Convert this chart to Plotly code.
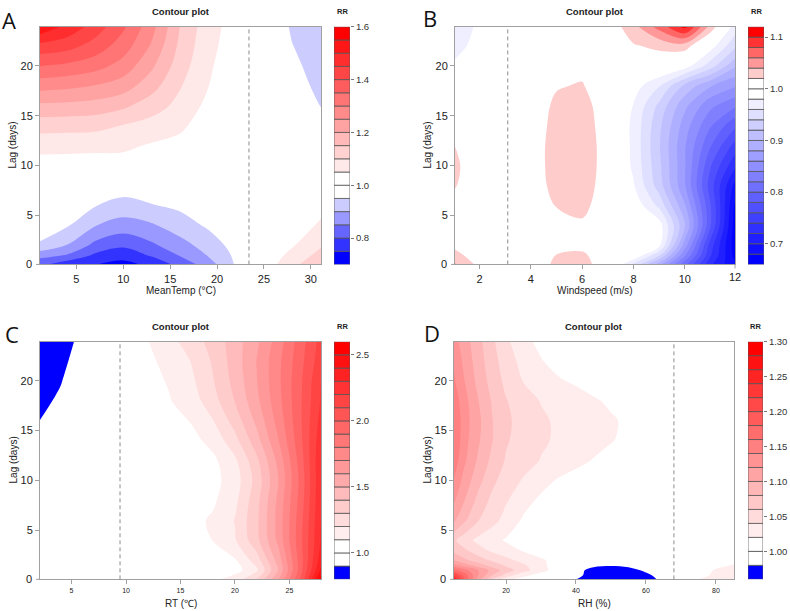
import numpy as np
import plotly.graph_objects as go

# ---------------- data (RR) ----------------
# Panel A : MeanTemp
meantemp_x = [1.0, 4, 7, 10, 13, 16, 19, 22, 25, 28, 31.2]
lag_A = [0, 1, 2, 4, 6, 8, 10, 12, 14, 16, 18, 20, 22, 24]
rr_A = [
    [0.805, 0.76, 0.748, 0.73, 0.76, 0.81, 0.87, 0.955, 1.02, 1.09, 1.14],
    [0.87, 0.845, 0.79, 0.77, 0.805, 0.852, 0.902, 0.96, 1.015, 1.065, 1.12],
    [0.94, 0.898, 0.835, 0.808, 0.84, 0.88, 0.92, 0.97, 1.01, 1.045, 1.097],
    [0.995, 0.955, 0.902, 0.878, 0.893, 0.925, 0.957, 0.98, 1.0, 1.02, 1.06],
    [1.0, 0.99, 0.952, 0.932, 0.947, 0.96, 0.975, 0.99, 0.995, 1.005, 1.035],
    [1.01, 1.0, 0.985, 0.975, 0.98, 0.985, 0.99, 0.995, 0.995, 1.0, 1.015],
    [1.025, 1.025, 1.025, 1.03, 1.02, 1.015, 1.005, 1.0, 1.0, 0.995, 1.0],
    [1.07, 1.068, 1.065, 1.06, 1.045, 1.035, 1.015, 1.0, 0.998, 0.99, 0.985],
    [1.12, 1.118, 1.115, 1.098, 1.08, 1.06, 1.025, 1.005, 0.996, 0.98, 0.962],
    [1.19, 1.187, 1.18, 1.16, 1.125, 1.085, 1.038, 1.01, 0.993, 0.975, 0.948],
    [1.27, 1.262, 1.248, 1.225, 1.17, 1.105, 1.052, 1.015, 0.99, 0.965, 0.94],
    [1.352, 1.34, 1.32, 1.28, 1.21, 1.125, 1.058, 1.02, 0.988, 0.958, 0.934],
    [1.435, 1.42, 1.38, 1.325, 1.245, 1.14, 1.065, 1.025, 0.986, 0.951, 0.929],
    [1.552, 1.49, 1.43, 1.36, 1.27, 1.152, 1.07, 1.03, 0.985, 0.945, 0.925],
]
levels_A = (0.70, 1.60, 0.05)
ref_A = 23.4
xticks_A = [5, 10, 15, 20, 25, 30]
cbticks_A = [0.8, 1.0, 1.2, 1.4, 1.6]

# Panel B : Windspeed
wind_x = [1, 2, 3, 4, 5, 6, 7, 8, 9, 10, 11, 12]
lag_B = [0, 1, 2, 4, 6, 8, 10, 12, 14, 16, 18, 20, 22, 24]
rr_B = [
    [1.045, 1.015, 1.0, 1.005, 1.025, 1.03, 1.005, 0.95, 0.882, 0.802, 0.722, 0.682],
    [1.03, 1.005, 1.0, 1.005, 1.021, 1.025, 1.003, 1.0, 0.942, 0.842, 0.742, 0.67],
    [1.015, 1.0, 1.0, 1.005, 1.01, 1.012, 1.0, 1.0, 0.985, 0.87, 0.75, 0.665],
    [1.005, 1.0, 1.0, 1.005, 1.012, 1.016, 1.0, 1.0, 0.99, 0.902, 0.782, 0.665],
    [1.012, 1.0, 1.0, 1.008, 1.021, 1.027, 1.005, 0.995, 0.955, 0.882, 0.782, 0.672],
    [1.022, 1.005, 1.0, 1.01, 1.026, 1.032, 1.008, 0.982, 0.93, 0.862, 0.77, 0.69],
    [1.025, 1.005, 1.0, 1.01, 1.028, 1.033, 1.01, 0.976, 0.925, 0.862, 0.782, 0.722],
    [1.021, 1.005, 1.0, 1.01, 1.028, 1.033, 1.01, 0.975, 0.922, 0.862, 0.802, 0.75],
    [1.01, 1.003, 1.0, 1.008, 1.027, 1.032, 1.008, 0.975, 0.925, 0.87, 0.822, 0.782],
    [1.0, 1.0, 1.0, 1.005, 1.025, 1.03, 1.005, 0.979, 0.935, 0.885, 0.845, 0.822],
    [0.99, 0.995, 0.998, 1.003, 1.018, 1.022, 1.0, 0.99, 0.962, 0.915, 0.882, 0.862],
    [0.982, 0.99, 0.995, 1.0, 1.01, 1.012, 0.998, 1.0, 1.005, 0.99, 0.95, 0.902],
    [0.975, 0.985, 0.992, 0.998, 1.005, 1.005, 1.0, 1.018, 1.025, 1.03, 0.99, 0.942],
    [0.97, 0.983, 0.99, 0.995, 1.0, 1.0, 1.005, 1.035, 1.07, 1.11, 1.035, 0.97],
]
levels_B = (0.66, 1.12, 0.02)
ref_B = 3.1
xticks_B = [2, 4, 6, 8, 10, 12]
cbticks_B = [0.7, 0.8, 0.9, 1.0, 1.1]

# Panel C : RT
rt_x = [2, 4, 6, 8, 10, 12, 14, 16, 18, 20, 22, 24, 26, 28]
lag_C = [0, 1, 2, 4, 6, 8, 10, 12, 14, 16, 18, 20, 22, 24]
rr_C = [
    [0.98, 0.99, 1.0, 1.0, 1.01, 1.02, 1.04, 1.06, 1.09, 1.16, 1.32, 1.61, 2.01, 2.6],
    [0.98, 0.99, 1.0, 1.0, 1.005, 1.01, 1.02, 1.03, 1.045, 1.06, 1.18, 1.51, 1.95, 2.45],
    [0.98, 0.99, 1.0, 1.0, 1.005, 1.01, 1.02, 1.03, 1.05, 1.09, 1.25, 1.55, 1.95, 2.38],
    [0.98, 0.99, 1.0, 1.0, 1.01, 1.02, 1.04, 1.06, 1.102, 1.19, 1.37, 1.63, 1.97, 2.33],
    [0.98, 0.99, 1.0, 1.0, 1.01, 1.02, 1.045, 1.07, 1.115, 1.205, 1.38, 1.64, 1.96, 2.32],
    [0.975, 0.99, 1.0, 1.0, 1.01, 1.02, 1.035, 1.06, 1.085, 1.175, 1.368, 1.628, 1.941, 2.31],
    [0.97, 0.985, 1.0, 1.0, 1.01, 1.02, 1.03, 1.05, 1.07, 1.15, 1.339, 1.603, 1.927, 2.31],
    [0.955, 0.98, 0.995, 1.0, 1.01, 1.03, 1.04, 1.06, 1.08, 1.18, 1.376, 1.634, 1.946, 2.31],
    [0.93, 0.97, 0.99, 1.0, 1.02, 1.04, 1.05, 1.07, 1.132, 1.268, 1.462, 1.699, 1.973, 2.28],
    [0.898, 0.95, 0.985, 0.995, 1.03, 1.05, 1.06, 1.107, 1.198, 1.343, 1.527, 1.741, 1.983, 2.25],
    [0.875, 0.915, 0.975, 0.99, 1.04, 1.06, 1.095, 1.153, 1.261, 1.405, 1.576, 1.77, 1.985, 2.22],
    [0.84, 0.895, 0.96, 0.985, 1.05, 1.07, 1.109, 1.18, 1.295, 1.434, 1.597, 1.78, 1.98, 2.21],
    [0.81, 0.875, 0.945, 0.98, 1.055, 1.085, 1.124, 1.205, 1.314, 1.449, 1.604, 1.776, 1.966, 2.17],
    [0.78, 0.85, 0.93, 0.975, 1.06, 1.098, 1.17, 1.25, 1.34, 1.45, 1.58, 1.75, 1.95, 2.15],
]
levels_C = (0.8, 2.6, 0.1)
ref_C = 9.45
xticks_C = [5, 10, 15, 20, 25]
cbticks_C = [1.0, 1.5, 2.0, 2.5]

# Panel D : RH
rh_x = [4.8, 8, 12, 16, 20, 25, 30, 35, 40, 45, 50, 55, 60, 65, 70, 75, 80, 85.5]
lag_D = [0, 0.5, 1, 1.5, 2, 3, 4, 6, 8, 10, 12, 14, 16, 18, 20, 22, 24]
rr_D = [
    [1.29, 1.187, 1.107, 1.053, 1.021, 1.01, 1.005, 1.0, 0.978, 0.961, 0.958, 0.961, 0.97, 0.985, 1.0, 1.021, 1.03, 1.035],
    [1.221, 1.173, 1.121, 1.081, 1.053, 1.025, 1.012, 1.005, 0.99, 0.965, 0.962, 0.965, 0.975, 0.99, 1.005, 1.015, 1.023, 1.028],
    [1.17, 1.147, 1.121, 1.093, 1.07, 1.048, 1.027, 1.01, 0.988, 0.972, 0.968, 0.972, 0.984, 0.998, 1.008, 1.015, 1.021, 1.026],
    [1.13, 1.11, 1.09, 1.072, 1.057, 1.043, 1.025, 1.01, 1.0, 0.985, 0.982, 0.985, 0.992, 1.0, 1.006, 1.012, 1.017, 1.021],
    [1.101, 1.085, 1.07, 1.057, 1.046, 1.033, 1.023, 1.012, 1.005, 0.995, 0.993, 0.995, 0.998, 1.0, 1.003, 1.008, 1.012, 1.015],
    [1.075, 1.064, 1.048, 1.036, 1.028, 1.018, 1.01, 1.005, 1.0, 1.0, 1.0, 1.0, 1.0, 1.0, 1.0, 1.002, 1.004, 1.005],
    [1.065, 1.049, 1.035, 1.026, 1.018, 1.01, 1.006, 1.003, 1.0, 1.0, 1.0, 1.0, 1.0, 1.0, 1.0, 1.0, 1.0, 1.0],
    [1.105, 1.084, 1.061, 1.047, 1.033, 1.017, 1.01, 1.005, 1.002, 1.0, 1.0, 1.0, 1.0, 1.0, 1.0, 1.0, 1.0, 1.0],
    [1.125, 1.101, 1.074, 1.055, 1.042, 1.027, 1.016, 1.01, 1.006, 1.003, 1.0, 1.0, 1.0, 1.0, 1.0, 1.0, 1.0, 1.0],
    [1.141, 1.113, 1.087, 1.065, 1.051, 1.038, 1.027, 1.018, 1.013, 1.009, 1.006, 1.004, 1.002, 1.0, 1.0, 1.0, 1.0, 1.0],
    [1.155, 1.124, 1.097, 1.075, 1.058, 1.048, 1.039, 1.032, 1.025, 1.019, 1.014, 1.01, 1.006, 1.003, 1.0, 1.0, 1.0, 1.0],
    [1.162, 1.128, 1.103, 1.081, 1.062, 1.052, 1.043, 1.037, 1.031, 1.026, 1.021, 1.016, 1.011, 1.007, 1.004, 1.002, 1.0, 1.0],
    [1.162, 1.13, 1.105, 1.081, 1.064, 1.052, 1.043, 1.037, 1.032, 1.027, 1.022, 1.017, 1.012, 1.008, 1.005, 1.002, 1.0, 1.0],
    [1.155, 1.128, 1.101, 1.078, 1.061, 1.049, 1.039, 1.033, 1.028, 1.022, 1.017, 1.012, 1.008, 1.005, 1.002, 1.0, 1.0, 1.0],
    [1.145, 1.121, 1.094, 1.072, 1.055, 1.039, 1.031, 1.022, 1.017, 1.012, 1.008, 1.005, 1.002, 1.0, 1.0, 1.0, 1.0, 1.0],
    [1.141, 1.115, 1.09, 1.068, 1.05, 1.033, 1.021, 1.013, 1.008, 1.004, 1.0, 1.0, 1.0, 1.0, 1.0, 1.0, 1.0, 1.0],
    [1.13, 1.11, 1.087, 1.064, 1.044, 1.025, 1.015, 1.01, 1.005, 1.0, 1.0, 1.0, 1.0, 1.0, 1.0, 1.0, 1.0, 1.0],
]
levels_D = (0.96, 1.30, 0.02)
ref_D = 68.0
xticks_D = [20, 40, 60, 80]
cbticks_D = [1.00, 1.05, 1.10, 1.15, 1.20, 1.25, 1.30]

yticks_lag = [0, 5, 10, 15, 20]

# ---------------- layout geometry (pixels) ----------------
W, H = 790, 611
FONT = "Liberation Sans, Arial, sans-serif"
INSET = 0.004   # keeps the fill's anti-aliased outer edge just outside the frame
TICKLEN = 4
TICKCOL = "#a0a0a0"


def px(x):
    return x / W


def py(y):
    return 1 - y / H


def make_levels(spec):
    lo, hi, st = spec
    n = int(round((hi - lo) / st))
    return [round(lo + i * st, 4) for i in range(n + 1)]


def band_colors(levels):
    lv = np.array(levels)
    n1 = int((lv < 1 - 1e-9).sum())
    n2 = int((lv > 1 + 1e-9).sum())
    cols = []
    for i in range(n1):
        t = i / (n1 - 1) if n1 > 1 else 1.0
        c = int(round(255 * t))
        cols.append(f"rgb({c},{c},255)")
    for i in range(n2):
        t = i / (n2 - 1) if n2 > 1 else 0.0
        c = int(round(255 * (1 - t)))
        cols.append(f"rgb(255,{c},{c})")
    nb = len(levels) - 1
    return cols[:nb]


def inset_range(vals):
    lo, hi = vals[0], vals[-1]
    d = (hi - lo) * INSET
    return [lo + d, hi - d]


panels = [
    dict(letter="A", x=meantemp_x, y=lag_A, z=rr_A, lv=levels_A, ref=ref_A,
         xt=xticks_A, cbt=cbticks_A, cbfmt=".1f", xtitle="MeanTemp (°C)",
         box=(40, 321, 21, 261), cb=(334, 350), xtick_size=11,
         letter_pos=(9, 14), title_y=6, xtitle_y=287),
    dict(letter="B", x=wind_x, y=lag_B, z=rr_B, lv=levels_B, ref=ref_B,
         xt=xticks_B, cbt=cbticks_B, cbfmt=".1f", xtitle="Windspeed (m/s)",
         box=(455, 735, 21, 261), cb=(748, 764), xtick_size=11,
         letter_pos=(430, 12), title_y=6, xtitle_y=287),
    dict(letter="C", x=rt_x, y=lag_C, z=rr_C, lv=levels_C, ref=ref_C,
         xt=xticks_C, cbt=cbticks_C, cbfmt=".1f", xtitle="RT (℃)",
         box=(40, 321, 339, 579), cb=(334, 350), xtick_size=7,
         letter_pos=(12, 331), title_y=324, xtitle_y=603),
    dict(letter="D", x=rh_x, y=lag_D, z=rr_D, lv=levels_D, ref=ref_D,
         xt=xticks_D, cbt=cbticks_D, cbfmt=".2f", xtitle="RH (%)",
         box=(454, 734, 339, 579), cb=(748, 763), xtick_size=7,
         letter_pos=(432, 330), title_y=324, xtitle_y=603),
]

fig = go.Figure()
annotations = []
shapes = []
layout_axes = {}


def sfx(k):
    return "" if k == 1 else str(k)


for i, p in enumerate(panels):
    n = sfx(i + 1)           # main axes suffix
    c = sfx(i + 5)           # colour key axes suffix
    levels = make_levels(p["lv"])
    cols = band_colors(levels)
    nb = len(levels) - 1
    st = p["lv"][2]
    cscale = [[k / (nb - 1), cols[k]] for k in range(nb)]

    fig.add_trace(go.Contour(
        x=p["x"], y=p["y"], z=p["z"],
        autocontour=False,
        contours=dict(start=levels[1], end=levels[-2], size=st,
                      coloring="fill", showlines=False),
        colorscale=cscale, showscale=False,
        line=dict(width=0, smoothing=1.0),
        xaxis=f"x{n}", yaxis=f"y{n}", hoverinfo="skip",
    ))

    # colour key as stacked bars
    fig.add_trace(go.Bar(
        x=[0] * nb, y=[round(levels[k + 1] - levels[k], 6) for k in range(nb)],
        base=levels[:-1], width=1,
        marker=dict(color=cols, line=dict(color="#555555", width=0.8)),
        xaxis=f"x{c}", yaxis=f"y{c}", showlegend=False, hoverinfo="skip",
    ))

    x0, x1, y0, y1 = p["box"]
    dom_x = [px(x0), px(x1)]
    dom_y = [py(y1), py(y0)]
    xr = inset_range(p["x"])
    yr = inset_range(p["y"])
    axis_common = dict(showgrid=False, zeroline=False, showline=True,
                       linecolor=TICKCOL, linewidth=1, mirror=True,
                       ticks="outside", ticklen=TICKLEN, tickcolor=TICKCOL,
                       tickfont=dict(family=FONT, size=11, color="#222"))
    xa = dict(axis_common, domain=dom_x, anchor=f"y{n}", range=xr, tickvals=p["xt"])
    xa["tickfont"] = dict(family=FONT, size=p["xtick_size"], color="#222")
    ya = dict(axis_common, domain=dom_y, anchor=f"x{n}", range=yr, tickvals=yticks_lag)
    layout_axes[f"xaxis{n}"] = xa
    layout_axes[f"yaxis{n}"] = ya

    # ticks that sit exactly on the data edge (just outside the inset range)
    for t in yticks_lag:
        if t < yr[0] or t > yr[1]:
            yd = 0 if t < yr[0] else 1
            shapes.append(dict(type="line", xref=f"x{n} domain", yref=f"y{n} domain",
                               xsizemode="pixel", xanchor=0, x0=-TICKLEN, x1=0,
                               y0=yd, y1=yd, line=dict(color=TICKCOL, width=1)))
            annotations.append(dict(text=str(t), xref=f"x{n} domain", yref=f"y{n} domain",
                                    x=0, y=yd, xanchor="right", yanchor="middle",
                                    xshift=-(TICKLEN + 2), showarrow=False,
                                    font=dict(family=FONT, size=11, color="#222")))
    for t in p["xt"]:
        if t < xr[0] or t > xr[1]:
            xd = 0 if t < xr[0] else 1
            shapes.append(dict(type="line", xref=f"x{n} domain", yref=f"y{n} domain",
                               ysizemode="pixel", yanchor=0, y0=-TICKLEN, y1=0,
                               x0=xd, x1=xd, line=dict(color=TICKCOL, width=1)))
            annotations.append(dict(text=str(t), xref=f"x{n} domain", yref=f"y{n} domain",
                                    x=xd, y=0, xanchor="center", yanchor="top",
                                    yshift=-(TICKLEN + 1), showarrow=False,
                                    font=dict(family=FONT, size=p["xtick_size"], color="#222")))

    cx0, cx1 = p["cb"]
    layout_axes[f"xaxis{c}"] = dict(domain=[px(cx0), px(cx1)], anchor=f"y{c}",
                                   range=[-0.5, 0.5], visible=False, fixedrange=True)
    layout_axes[f"yaxis{c}"] = dict(domain=dom_y, anchor=f"x{c}", side="right",
                                   range=[levels[0], levels[-1]], tickvals=p["cbt"],
                                   tickformat=p["cbfmt"], ticks="outside", ticklen=3,
                                   tickcolor="#777", showgrid=False, zeroline=False,
                                   showline=False,
                                   tickfont=dict(family=FONT, size=9.5, color="#333"))

    # dashed reference line
    shapes.append(dict(type="line", xref=f"x{n}", yref=f"y{n} domain",
                       x0=p["ref"], x1=p["ref"], y0=0, y1=1,
                       line=dict(color="#8c8c8c", width=1, dash="4px,3px")))

    # texts
    annotations.append(dict(text="<b>Contour plot</b>", x=px((x0 + x1) / 2), y=py(p["title_y"]),
                            xref="paper", yref="paper", showarrow=False,
                            xanchor="center", yanchor="middle",
                            font=dict(family=FONT, size=9.5, color="#222")))
    annotations.append(dict(text="<b>RR</b>", x=px((cx0 + cx1) / 2), y=py(p["title_y"]),
                            xref="paper", yref="paper", showarrow=False,
                            xanchor="center", yanchor="middle",
                            font=dict(family=FONT, size=7.5, color="#222")))
    annotations.append(dict(text=p["xtitle"], x=px((x0 + x1) / 2), y=py(p["xtitle_y"]),
                            xref="paper", yref="paper", showarrow=False,
                            xanchor="center", yanchor="middle",
                            font=dict(family=FONT, size=10, color="#222")))
    annotations.append(dict(text="Lag (days)", x=px(x0 - 27), y=py((y0 + y1) / 2),
                            xref="paper", yref="paper", showarrow=False, textangle=-90,
                            xanchor="center", yanchor="middle",
                            font=dict(family=FONT, size=10, color="#222")))
    lx, ly = p["letter_pos"]
    annotations.append(dict(text=p["letter"], x=px(lx), y=py(ly),
                            xref="paper", yref="paper", showarrow=False,
                            xanchor="center", yanchor="middle",
                            font=dict(family="Open Sans, Noto Sans, sans-serif", size=22, color="#111")))

fig.update_layout(
    width=W, height=H, margin=dict(l=0, r=0, t=0, b=0),
    paper_bgcolor="white", plot_bgcolor="white",
    showlegend=False, annotations=annotations, shapes=shapes,
    **layout_axes,
)

page_fix = (
    "document.documentElement.style.margin='0px';"
    "document.documentElement.style.overflow='hidden';"
    "document.body.style.margin='0px';"
    "document.body.style.overflow='hidden';"
    "var g=document.getElementsByClassName('plotly-graph-div')[0];"
    "g.style.position='fixed';g.style.left='0px';g.style.top='0px';"
)
fig.write_html("out.html", config={"displayModeBar": False}, post_script=page_fix)
